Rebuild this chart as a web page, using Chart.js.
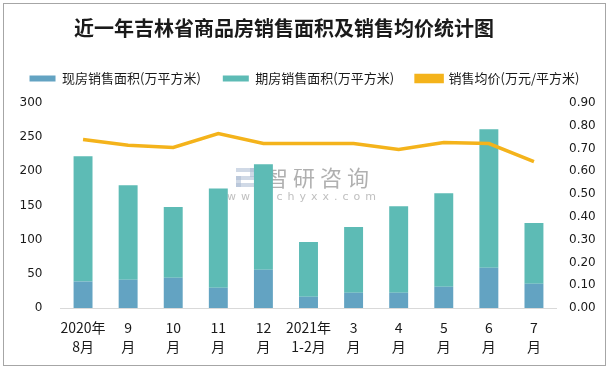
<!DOCTYPE html>
<html>
<head>
<meta charset="utf-8">
<script src="https://cdn.jsdelivr.net/npm/chart.js@4/dist/chart.umd.min.js"></script>
<style>
html,body{margin:0;padding:0;background:#fff;}
#wrap{position:relative;width:609px;height:370px;}
canvas{display:block;}
</style>
</head>
<body>
<div id="wrap"><canvas id="c" width="609" height="370"></canvas></div>
<script>
const chartTitle = '近一年吉林省商品房销售面积及销售均价统计图';
const categories = [['2020年','8月'],['9','月'],['10','月'],['11','月'],['12','月'],['2021年','1-2月'],['3','月'],['4','月'],['5','月'],['6','月'],['7','月']];
const seriesNames = ['现房销售面积(万平方米)','期房销售面积(万平方米)','销售均价(万元/平方米)'];
const existingArea = [38.9, 41.3, 44.2, 29.6, 55.9, 16.5, 22.3, 22.3, 31.0, 58.8, 35.5];
const futureArea = [183.1, 138.2, 103.6, 145.4, 154.6, 80.2, 96.3, 126.7, 136.8, 202.8, 89.0];
const avgPrice = [0.740, 0.715, 0.705, 0.766, 0.722, 0.722, 0.722, 0.696, 0.727, 0.722, 0.643];
const leftTicks = {min:0, max:300, step:50};
const rightTicks = {min:0, max:0.9, step:0.1};

const COLORS = {existing:'#63a3c2', future:'#5dbbb5', price:'#f4b31b'};

const decor = {
  id:'decor',
  beforeDatasetsDraw(chart){
    const ctx = chart.ctx;
    ctx.save();
    // watermark logo
    ctx.fillStyle = 'rgba(170,185,210,0.55)';
    ctx.fillRect(236,168,19,4);
    ctx.fillRect(250,168,5,9);
    ctx.fillRect(236,176,19,4);
    ctx.fillRect(236,176,5,11);
    ctx.fillRect(236,183,19,4);
    ctx.fillStyle = 'rgba(150,150,150,0.75)';
    ctx.font = '22px "Noto Sans CJK SC"';
    ctx.letterSpacing = '5px';
    ctx.textBaseline = 'middle';
    ctx.textAlign = 'left';
    ctx.fillText('智研咨询', 266, 178);
    ctx.fillStyle = 'rgba(170,170,170,0.75)';
    ctx.font = '11px "DejaVu Sans"';
    ctx.letterSpacing = '5px';
    ctx.fillText('www.chyxx.com', 227, 197);
    ctx.letterSpacing = '0px';
    ctx.restore();
  },
  afterDraw(chart){
    const ctx = chart.ctx;
    ctx.save();
    ctx.letterSpacing = '0px';
    ctx.fillStyle = '#1a1a1a';
    ctx.font = 'bold 20px "Noto Sans CJK SC"';
    ctx.textAlign = 'center';
    ctx.textBaseline = 'middle';
    ctx.fillText(chartTitle, 284, 28.5);
    ctx.strokeStyle = '#a6a6a6';
    ctx.lineWidth = 1;
    ctx.strokeRect(3.5,3.5,602,362);
    ctx.restore();
  }
};

new Chart(document.getElementById('c'), {
  type:'bar',
  data:{
    labels: categories,
    datasets:[
      {type:'bar', label:seriesNames[0], data:existingArea, backgroundColor:COLORS.existing, yAxisID:'y', stack:'s', order:1, barPercentage:0.42, categoryPercentage:1},
      {type:'bar', label:seriesNames[1], data:futureArea, backgroundColor:COLORS.future, yAxisID:'y', stack:'s', order:1, barPercentage:0.42, categoryPercentage:1},
      {type:'line', label:seriesNames[2], data:avgPrice, borderColor:COLORS.price, backgroundColor:COLORS.price, borderWidth:3.5, pointRadius:0, pointHoverRadius:0, tension:0, yAxisID:'y1', order:0}
    ]
  },
  options:{
    responsive:false,
    animation:false,
    devicePixelRatio:1,
    layout:{padding:{top:50,left:0,right:0,bottom:0}},
    plugins:{
      title:{display:false},
      tooltip:{enabled:false},
      legend:{
        display:true, position:'top', align:'center',
        labels:{
          boxWidth:26, boxHeight:6, padding:22, color:'#1a1a1a',
          font:{family:'"Noto Sans CJK SC"', size:13},
          sort:(a,b)=>a.datasetIndex-b.datasetIndex
        }
      }
    },
    scales:{
      x:{
        stacked:true,
        grid:{display:false, drawTicks:false},
        border:{display:true, color:'#d9d9d9', width:1},
        ticks:{color:'#1a1a1a', padding:10, maxRotation:0, autoSkip:false, font:{family:'"Noto Sans CJK SC"', size:14, lineHeight:1.36}},
        afterFit(s){ s.height = 62; }
      },
      xTop:{
        type:'category', position:'top', display:true,
        grid:{display:false, drawTicks:false}, border:{display:false},
        ticks:{display:false},
        afterFit(s){ s.height = 8; }
      },
      y:{
        stacked:true, position:'left', min:leftTicks.min, max:leftTicks.max,
        grid:{display:false, drawTicks:false}, border:{display:false},
        ticks:{stepSize:leftTicks.step, padding:18, color:'#1a1a1a', font:{family:'"DejaVu Sans"', size:12}},
        afterFit(s){ s.width = 60.5; }
      },
      y1:{
        position:'right', min:rightTicks.min, max:rightTicks.max,
        grid:{display:false, drawTicks:false}, border:{display:false},
        ticks:{stepSize:rightTicks.step, padding:12.5, color:'#1a1a1a', font:{family:'"DejaVu Sans"', size:12}, callback:v=>Number(v).toFixed(2)},
        afterFit(s){ s.width = 52.5; }
      }
    }
  },
  plugins:[decor]
});
</script>
</body>
</html>
